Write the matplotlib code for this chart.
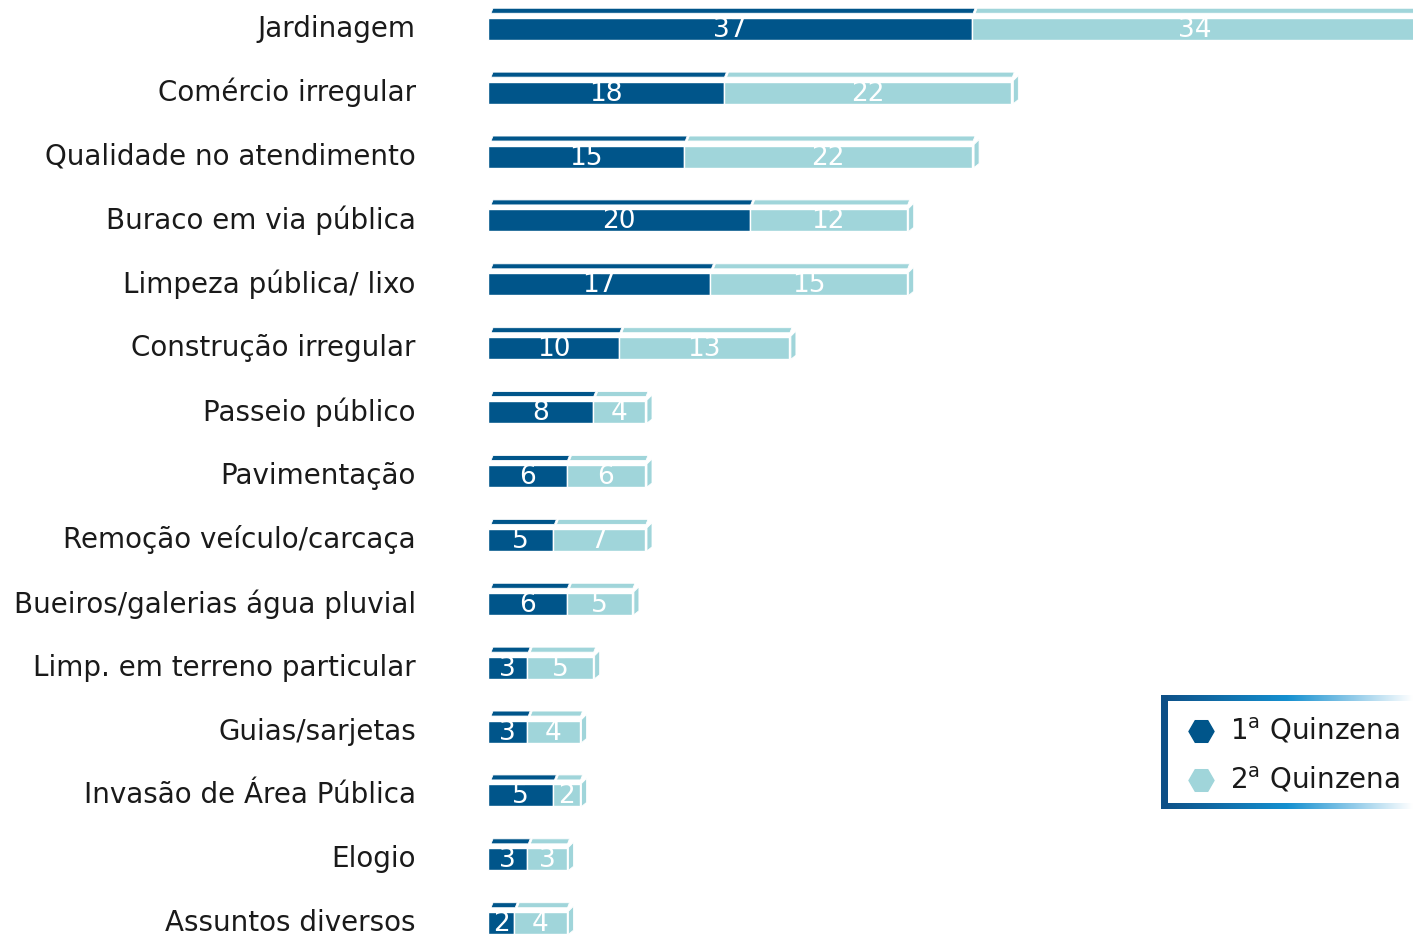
import numpy as np
import matplotlib.pyplot as plt
from matplotlib.patches import Polygon, Rectangle
from matplotlib.colors import LinearSegmentedColormap
from matplotlib.transforms import ScaledTranslation

categories = ['Jardinagem', 'Comércio irregular', 'Qualidade no atendimento',
              'Buraco em via pública', 'Limpeza pública/ lixo', 'Construção irregular',
              'Passeio público', 'Pavimentação', 'Remoção veículo/carcaça',
              'Bueiros/galerias água pluvial', 'Limp. em terreno particular',
              'Guias/sarjetas', 'Invasão de Área Pública', 'Elogio', 'Assuntos diversos']
q1 = [37, 18, 15, 20, 17, 10, 8, 6, 5, 6, 3, 3, 5, 3, 2]
q2 = [34, 22, 22, 12, 15, 13, 4, 6, 7, 5, 5, 4, 2, 3, 4]
series_names = ['1$^{\\rm a}$ Quinzena', '2$^{\\rm a}$ Quinzena']
colors = ['#00558a', '#a0d5da']

W, H = 1413, 936
fig = plt.figure(figsize=(W / 100, H / 100), dpi=100)
ax = fig.add_axes([488 / W, 0, (W - 488) / W, 1])
xmax = 70.7
ymin, ymax = -0.45, 14.2
ax.set_xlim(0, xmax)
ax.set_ylim(ymax, ymin)

# one pixel in data units
px = xmax / (W - 488)
py = (ymax - ymin) / H
h = 22 * py

y = np.arange(len(categories))
q1 = np.array(q1)
q2 = np.array(q2)

ax.barh(y, q1, height=h, color=colors[0], edgecolor='white', linewidth=1)
ax.barh(y, q2, left=q1, height=h, color=colors[1], edgecolor='white', linewidth=1)

# fake 3d: top faces and right side face
for i in range(len(y)):
    top = y[i] - h / 2
    for left, right, c in [(0, q1[i], colors[0]), (q1[i], q1[i] + q2[i], colors[1])]:
        pts = [(left + 3 * px, top - 4.5 * py), (right + 1 * px, top - 4.5 * py),
               (right + 3 * px, top - 9.5 * py), (left + 5 * px, top - 9.5 * py)]
        ax.add_patch(Polygon(pts, closed=True, facecolor=c, edgecolor='white', linewidth=0.6))
    r = q1[i] + q2[i]
    side = [(r + 2 * px, top + h), (r + 2 * px, top - 1 * py),
            (r + 7 * px, top - 6 * py), (r + 7 * px, top + h - 4 * py)]
    ax.add_patch(Polygon(side, closed=True, facecolor=colors[1], edgecolor='white', linewidth=0.6))

    ax.text(q1[i] / 2, top + h - 3 * py, str(q1[i]), ha='center', va='baseline',
            color='white', fontsize=19)
    ax.text(q1[i] + q2[i] / 2, top + h - 3 * py, str(q2[i]), ha='center', va='baseline',
            color='white', fontsize=19)

ax.set_yticks(y)
ax.set_yticklabels(categories, fontsize=20, color='#1a1a1a')
ax.tick_params(axis='y', length=0, pad=52)
# nudge labels up a little
for lab in ax.get_yticklabels():
    lab.set_transform(lab.get_transform() + ScaledTranslation(0, 0.03, fig.dpi_scale_trans))
ax.set_xticks([])
for s in ax.spines.values():
    s.set_visible(False)

# legend box with gradient border
lax = fig.add_axes([1161 / W, 1 - 809 / H, (W - 1161) / W, (809 - 695) / H])
lax.axis('off')
grad = LinearSegmentedColormap.from_list('g', ['#0d4f86', '#1590d0', '#ffffff'])
g = np.linspace(0, 1, 256).reshape(1, -1)
bt = 6 / 114
lax.imshow(g, cmap=grad, extent=(0, 1, 1 - bt, 1), aspect='auto')
lax.imshow(g, cmap=grad, extent=(0, 1, 0, bt), aspect='auto')
lax.add_patch(Rectangle((0, 0), 7 / 252, 1, color='#0d4f86', lw=0))
lax.set_xlim(0, 1)
lax.set_ylim(0, 1)

for k, name in enumerate(series_names):
    yy = 1 - (731 + 49 * k - 695) / 114
    lax.plot(40 / 252, yy, marker='H', markersize=18, color=colors[k], linestyle='none')
    lax.text(69 / 252, yy, name, ha='left', va='center', fontsize=20, color='#1a1a1a')

fig.savefig('out.png', dpi=100)
